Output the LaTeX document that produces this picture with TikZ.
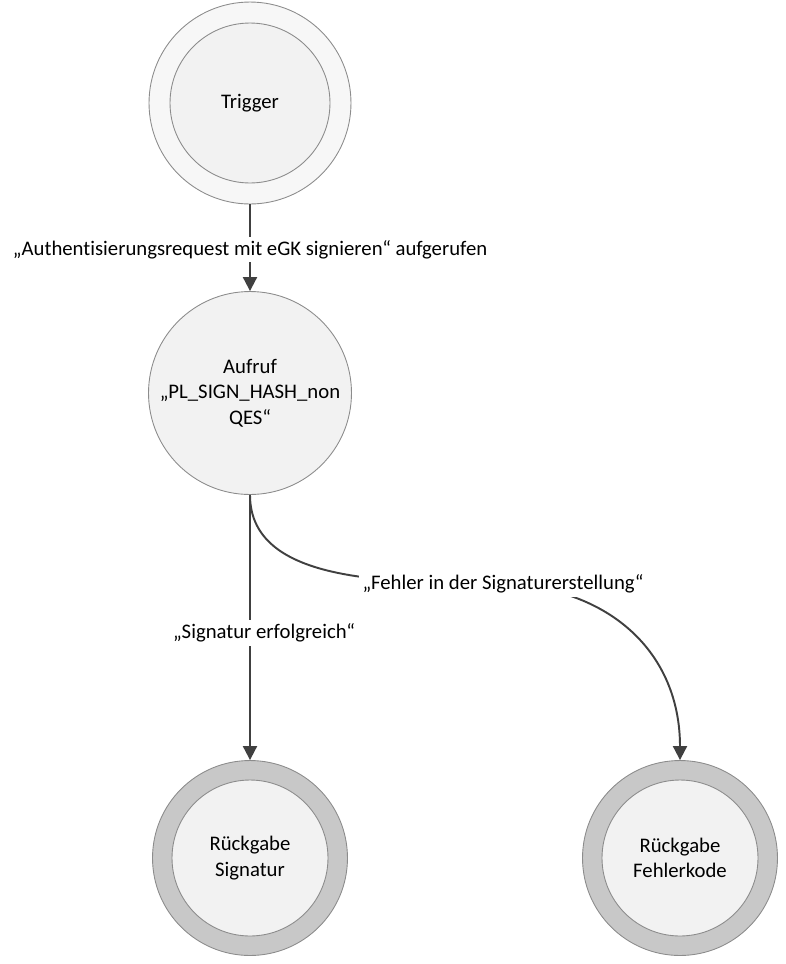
\documentclass[tikz,border=0pt]{standalone}
\usepackage{fontspec}
\setmainfont{Carlito}[Ligatures=NoCommon]
\usepackage{xcolor}
\usepackage{tikz}
\usetikzlibrary{arrows.meta,positioning}
\definecolor{rim}{HTML}{8C8C8C}
\definecolor{body}{HTML}{F2F2F2}
\definecolor{ring}{HTML}{C8C8C8}
\definecolor{wire}{HTML}{404040}
\tikzset{outerstate/.style={circle,draw=rim,fill=body!60,line width=.5pt,minimum size=4.04cm,inner sep=0pt},innerstate/.style={circle,draw=rim,fill=body,line width=.5pt,minimum size=3.2cm,inner sep=0pt,align=center,font=\fontsize{11.8}{14.4}\selectfont},endstate/.style={circle,draw=rim,fill=ring,line width=.5pt,minimum size=3.9cm,inner sep=0pt},endinner/.style={innerstate,minimum size=3.12cm},flow/.style={-{Triangle[length=8pt,width=8pt]},draw=wire,line width=1.1pt},cond/.style={fill=white,inner sep=2pt,font=\fontsize{11.8}{14.4}\selectfont}}
\begin{document}
\begin{tikzpicture}[x=0.02cm,y=-0.02cm]
 \useasboundingbox (0,0) rectangle (785,964);
 \node[outerstate] (trig) at (250,103) {}; \node[innerstate] (trigin) at (250,103) {Trigger};
 \node[innerstate,minimum size=4.06cm] (aufruf) at (250,393) {Aufruf\\„PL\_SIGN\_HASH\_non\\QES“};
 \node[endstate] (sig) at (250,858) {}; \node[endinner] (sigin) at (250,858) {Rückgabe\\Signatur};
 \node[endstate] (err) at (680,858) {}; \node[endinner] (errin) at (680,858) {Rückgabe\\Fehlerkode};
 \draw[flow] (trig.south) -- node[cond,pos=.52] {„Authentisierungsrequest mit eGK signieren“ aufgerufen} (aufruf.north);
 \draw[flow] (aufruf.south) -- node[cond,pos=.52,xshift=8pt] {„Signatur erfolgreich“} (sig.north);
 \coordinate (bend) at (503,584);
 \draw[flow] (aufruf.south) to[out=-90,in=178,looseness=.9] (bend) to[out=-2,in=90,looseness=1.1] (err.north);
 \node[cond] (errlbl) at (bend) {„Fehler in der Signaturerstellung“};
\end{tikzpicture}
\end{document}
